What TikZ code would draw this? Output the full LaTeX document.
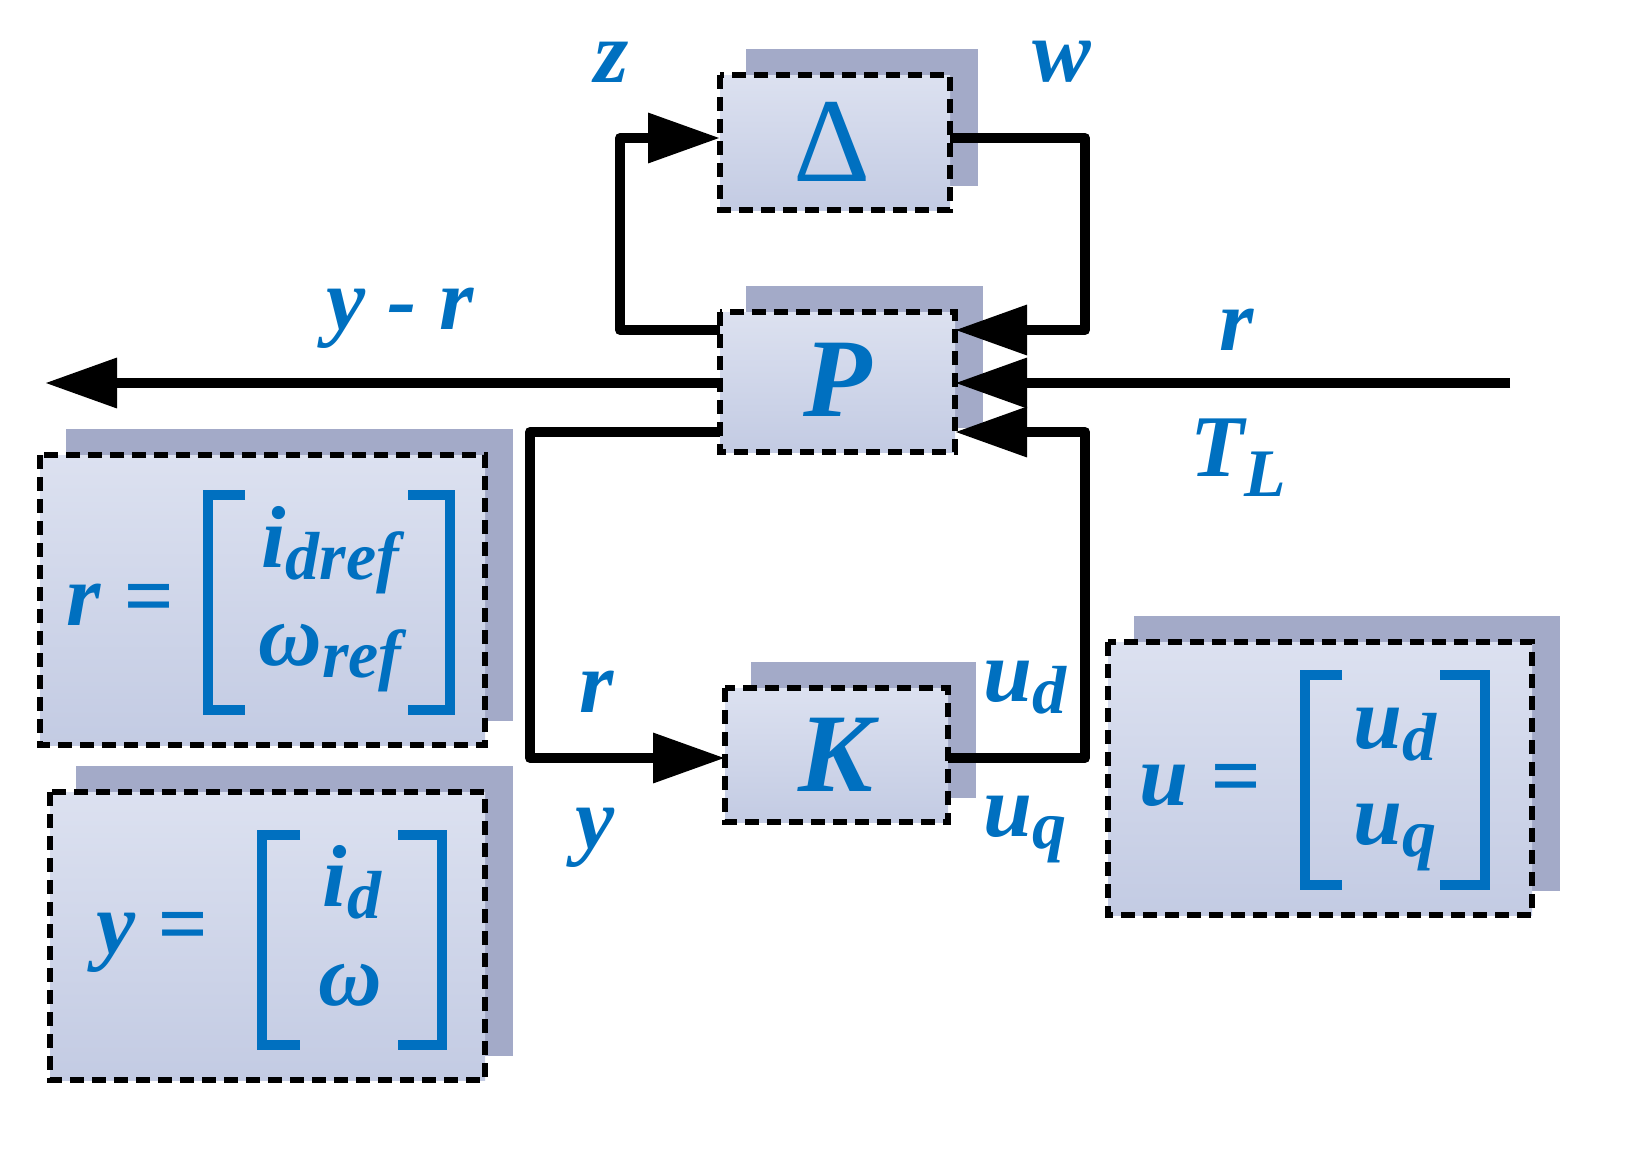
\documentclass[tikz,border=0pt]{standalone}
\usepackage{fontspec}
\setmainfont{Liberation Serif}
\usetikzlibrary{arrows.meta}
\definecolor{lb}{HTML}{0070C0}
\definecolor{shd}{HTML}{A3AAC8}
\definecolor{tp}{HTML}{DCE1F0}
\definecolor{bt}{HTML}{C3CBE3}
\begin{document}
\begin{tikzpicture}[x=0.5pt,y=-0.5pt,
  wire/.style={line width=5pt,line join=round},
  arr/.style={wire,-{Triangle[length=36pt,width=24pt]}},
  lab/.style={text=lb,font=\fontsize{44}{48}\selectfont\bfseries\itshape,inner sep=0},
  big/.style={text=lb,font=\fontsize{56}{60}\selectfont\bfseries\itshape,inner sep=0},
  brk/.style={draw=lb,line width=5pt}]
\useasboundingbox (0,0) rectangle (1652,1173);
\newcommand\blk[5]{%
  \fill[shd] (#1+26,#2-26) rectangle (#3+28,#4-24);
  \shade[top color=tp,bottom color=bt] (#1,#2) rectangle (#3,#4);
  \draw[line width=3pt,dash pattern=on 7pt off 4pt] (#1,#2) rectangle (#3,#4);
  \coordinate (#5) at ({(#1+#3)/2},{(#2+#4)/2});}
\blk{720}{75}{950}{210}{D}
\blk{720}{312}{955}{452}{P}
\blk{725}{688}{948}{822}{K}
\blk{40}{455}{485}{745}{R}
\blk{50}{792}{485}{1080}{Y}
\blk{1108}{642}{1532}{915}{U}
% nodes
\node[text=lb,font=\fontsize{60}{64}\selectfont,inner sep=0] (d) at (832,142) {Δ};
\node[big] (p) at (838,380) {P};
\node[big] (k) at (836,755) {K};
% coordinates
\coordinate (pl1) at (720,330); \coordinate (pr1) at (955,330);
\coordinate (pl2) at (720,383); \coordinate (pr2) at (955,383);
\coordinate (pl3) at (720,432); \coordinate (pr3) at (955,432);
\coordinate (dl) at (720,138); \coordinate (dr) at (950,138);
\coordinate (kl) at (725,758); \coordinate (kr) at (948,758);
\coordinate (out) at (45,383); \coordinate (in) at (1510,383);
\draw[arr] (pl1) -- (620,330) -- (620,138) -- (dl);
\draw[arr] (dr) -- (1085,138) -- (1085,330) -- (pr1);
\draw[arr] (pl2) -- (out);
\draw[arr] (in) -- (pr2);
\draw[arr] (kr) -- (1085,758) -- (1085,432) -- (pr3);
\draw[arr] (pl3) -- (530,432) -- (530,758) -- (kl);
% labels
\node[lab] at (612,62) {z};
\node[lab] at (1062,62) {w};
\node[lab] at (400,318) {y - r};
\node[lab] at (1237,330) {r};
\node[lab] at (1238,458) {T\raisebox{-10pt}{\fontsize{34}{36}\selectfont L}};
\node[lab] at (597,692) {r};
\node[lab] at (595,838) {y};
\node[lab] at (1025,688) {u\raisebox{-6pt}{\fontsize{34}{36}\selectfont d}};
\node[lab] at (1025,830) {u\raisebox{-6pt}{\fontsize{34}{36}\selectfont q}};
% r matrix
\node[lab] at (120,605) {r =};
\draw[brk] (245,495) -- (208,495) -- (208,710) -- (245,710);
\draw[brk] (408,495) -- (450,495) -- (450,710) -- (408,710);
\node[lab] at (330,550) {i\raisebox{-6pt}{\fontsize{34}{36}\selectfont dref}};
\node[lab] at (330,658) {ω\raisebox{-6pt}{\fontsize{34}{36}\selectfont ref}};
% y matrix
\node[lab] at (152,942) {y =};
\draw[brk] (300,835) -- (262,835) -- (262,1045) -- (300,1045);
\draw[brk] (398,835) -- (442,835) -- (442,1045) -- (398,1045);
\node[lab] at (352,882) {i\raisebox{-6pt}{\fontsize{34}{36}\selectfont d}};
\node[lab] at (350,985) {ω};
% u matrix
\node[lab] at (1200,785) {u =};
\draw[brk] (1342,675) -- (1305,675) -- (1305,885) -- (1342,885);
\draw[brk] (1440,675) -- (1485,675) -- (1485,885) -- (1440,885);
\node[lab] at (1395,735) {u\raisebox{-6pt}{\fontsize{34}{36}\selectfont d}};
\node[lab] at (1395,838) {u\raisebox{-6pt}{\fontsize{34}{36}\selectfont q}};
\end{tikzpicture}
\end{document}
